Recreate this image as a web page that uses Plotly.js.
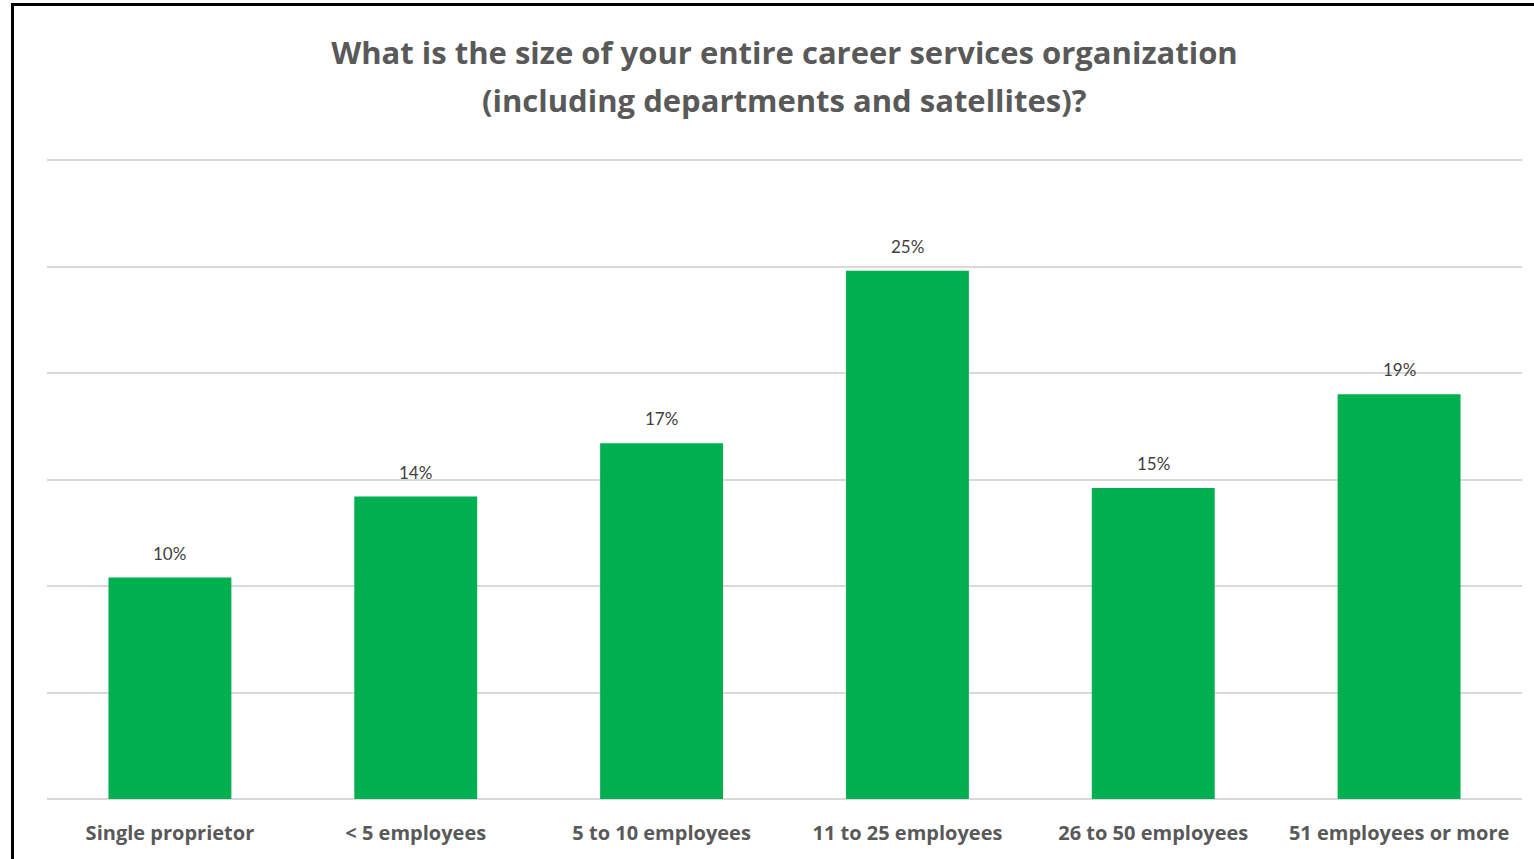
<!DOCTYPE html>
<html><head><meta charset="utf-8">
<script src="https://cdn.plot.ly/plotly-3.0.1.min.js"></script>
<style>
html,body{margin:0;padding:0;background:#fff;overflow:hidden;}
#chart{width:1534px;height:859px;}
#frame{position:absolute;left:11px;top:3px;width:2000px;height:2000px;border:3px solid #000;pointer-events:none;}
</style></head>
<body>
<div id="chart"></div>
<div id="frame"></div>
<script>
const categories = ["Single proprietor", "< 5 employees", "5 to 10 employees", "11 to 25 employees", "26 to 50 employees", "51 employees or more"];
const values = [10.4, 14.2, 16.7, 24.8, 14.6, 19.0];
const labels = ["10%", "14%", "17%", "25%", "15%", "19%"];
const titleLine1 = 'What is the size of your entire career services organization';
const titleLine2 = '(including departments and satellites)?';

const H = 859, T = 159, B = 60;
const titleFont = {family: '"Open Sans", sans-serif', size: 31, color: '#595959', weight: 'bold'};
const trace = {
  type: 'bar', x: categories, y: values, width: 0.5,
  marker: {color: '#00B050'}, hoverinfo: 'skip'
};
const annotations = categories.map((c, i) => ({
  x: c, y: values[i], xref: 'x', yref: 'y', text: labels[i], showarrow: false,
  yanchor: 'bottom', yshift: 12,
  font: {family: 'Lato, sans-serif', size: 17, color: '#404040'}
}));
annotations.push({
  x: 0.5, xref: 'paper', y: (H - B - 100) / (H - T - B), yref: 'paper', yanchor: 'middle', showarrow: false,
  text: titleLine2, font: titleFont
});
const layout = {
  width: 1534, height: H,
  margin: {l: 47, r: 12, t: T, b: B},
  paper_bgcolor: '#fff', plot_bgcolor: '#fff',
  title: {text: titleLine1,
    x: 0.5, xref: 'paper', y: 1 - 53 / H, yref: 'container', yanchor: 'middle',
    font: titleFont},
  xaxis: {showgrid: false, showline: false, ticks: '', ticklabelstandoff: 20,
    tickfont: {family: '"Open Sans", sans-serif', size: 20, color: '#595959', weight: 'bold'}},
  yaxis: {range: [0, 30.05], tickvals: [0, 5, 10, 15, 20, 25, 30], showticklabels: false, showgrid: true,
    gridcolor: '#d9d9d9', gridwidth: 2, zeroline: true, zerolinecolor: '#d9d9d9', zerolinewidth: 2},
  annotations: annotations, showlegend: false, bargap: 0.5
};
Plotly.newPlot('chart', [trace], layout, {displayModeBar: false, staticPlot: true});
</script>
</body></html>
